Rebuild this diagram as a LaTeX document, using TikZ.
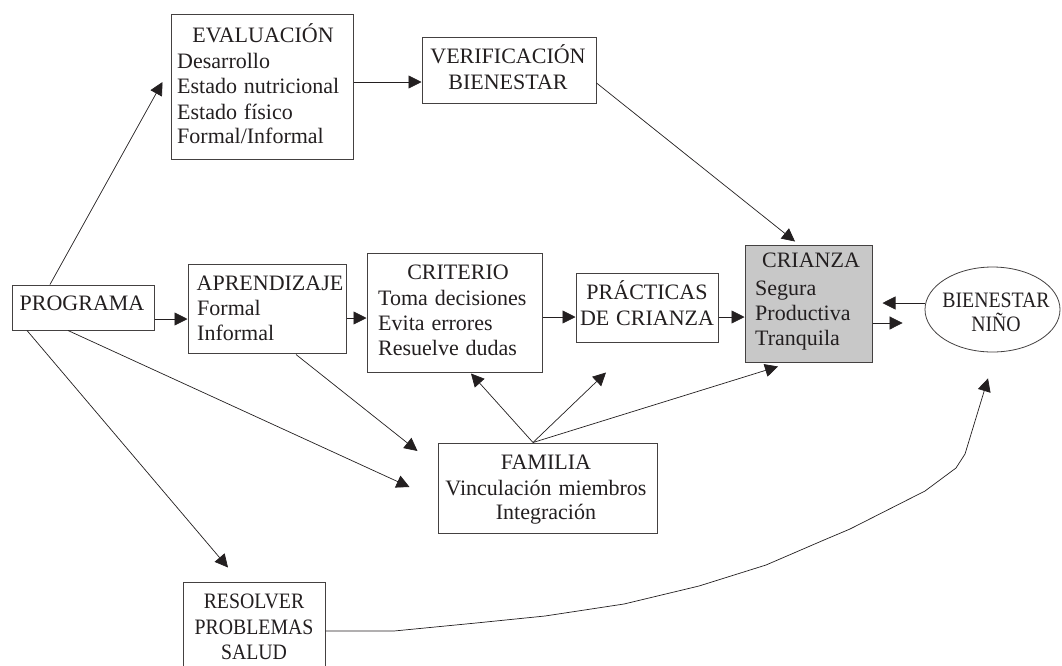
\documentclass[tikz,border=0pt]{standalone}
\usepackage{fontspec}
\setmainfont{Liberation Serif}[WordSpace=1.25]
\usetikzlibrary{arrows.meta,calc,shapes.geometric}
\newcommand\condtxt[1]{\scalebox{0.9}[1]{#1}}
\definecolor{ink}{RGB}{35,31,32}
\definecolor{crfill}{RGB}{200,200,200}
\tikzset{
  box/.style={draw=ink!85, line width=1pt, rectangle, inner sep=0pt},
  txt/.style={inner sep=0pt, text=ink, font=\fontsize{22}{25}\selectfont},
  tc/.style={txt, anchor=base},
  tl/.style={txt, anchor=base west},
  arr/.style={draw=ink, line width=0.7pt, line join=round, -{Triangle[length=13pt,width=13pt]}},
}
\begin{document}
\begin{tikzpicture}[x=1pt,y=-1pt]
\fill[white] (0,0) rectangle (1062,665);
\useasboundingbox (0,0) rectangle (1062,665);

% boxes
\node[box, minimum width=182pt, minimum height=145pt] (eval) at (262,86.5) {};
\node[box, minimum width=174pt, minimum height=66pt] (verif) at (509,70) {};
\node[box, minimum width=142pt, minimum height=45pt] (prog) at (83,307.5) {};
\node[box, minimum width=158pt, minimum height=89pt] (apr) at (267,308.5) {};
\node[box, minimum width=175pt, minimum height=119pt] (crit) at (454.5,312.5) {};
\node[box, minimum width=142pt, minimum height=69pt] (prac) at (647,307.5) {};
\node[box, fill=crfill, minimum width=127pt, minimum height=117pt] (crianza) at (808.5,303.5) {};
\node[draw=ink!85, line width=0.8pt, ellipse, inner sep=0pt, minimum width=135pt, minimum height=85pt] (bien) at (992.5,309.5) {};
\node[box, minimum width=219pt, minimum height=90pt] (fam) at (547.5,488) {};
\node[box, minimum width=142pt, minimum height=98pt] (resol) at (254,631) {};

% texts
\node[tc] (t1) at (263,42) {EVALUACIÓN};
\node[tl] (t2) at (177,68) {Desarrollo};
\node[tl] (t3) at (177,93) {Estado nutricional};
\node[tl] (t4) at (177,119) {Estado físico};
\node[tl] (t5) at (177,143) {Formal/Informal};

\node[tc] (t6) at (508,63) {VERIFICACIÓN};
\node[tc] (t7) at (508,89) {BIENESTAR};

\node[tc] (t8) at (82,310) {PROGRAMA};

\node[tc] (t9) at (270,290) {APRENDIZAJE};
\node[tl] (t10) at (197,315) {Formal};
\node[tl] (t11) at (197,340) {Informal};

\node[tc] (t12) at (458,279) {CRITERIO};
\node[tl] (t13) at (378,305) {Toma decisiones};
\node[tl] (t14) at (378,330) {Evita errores};
\node[tl] (t15) at (378,355) {Resuelve dudas};

\node[tc] (t16) at (647,299) {PRÁCTICAS};
\node[tc] (t17) at (647,325) {DE CRIANZA};

\node[tc] (t18) at (811,267) {CRIANZA};
\node[tl] (t19) at (755,295) {Segura};
\node[tl] (t20) at (755,320) {Productiva};
\node[tl] (t21) at (755,345) {Tranquila};

\node[tc] (t22) at (996,307) {\condtxt{BIENESTAR}};
\node[tc] (t23) at (996,331) {\condtxt{NIÑO}};

\node[tc] (t24) at (546,469) {FAMILIA};
\node[tc] (t25) at (546,495) {Vinculación miembros};
\node[tc] (t26) at (546,519) {Integración};

\node[tc] (t27) at (254,608) {\condtxt{RESOLVER}};
\node[tc] (t28) at (254,634) {\condtxt{PROBLEMAS}};
\node[tc] (t29) at (254,659) {\condtxt{SALUD}};

% arrow tip positions (free ends)
\coordinate (evaltip) at ($(eval.west)+(-8,-4.5)$);
\coordinate (critip) at ($(crianza.north)+(-13.5,-3)$);
\coordinate (crwest) at ($(crianza.east)+(10,-0.5)$);
\coordinate (bienwest) at ($(bien.west)+(-22,13.5)$);
\coordinate (famtipA) at ($(fam.west)+(-20,-37)$);
\coordinate (famtipB) at ($(fam.west)+(-28,-1)$);
\coordinate (resoltip) at ($(resol.north)+(-26,-14)$);
\coordinate (famtop) at ($(fam.north)+(-14.5,0)$);
\coordinate (crittip) at ($(crit.south)+(16.5,1)$);
\coordinate (practip) at ($(prac.south)+(-41,30)$);
\coordinate (criantip) at ($(crianza.south)+(-30.5,4)$);
\coordinate (bientip) at ($(bien.south)+(-4.5,26)$);

% connectors
\draw[arr] ($(prog.north)+(-33,0)$) -- (evaltip);
\draw[arr] ($(eval.east)+(0,-4.5)$) -- ($(verif.west)+(0,12)$);
\draw[arr] ($(verif.east)+(0,13)$) -- (critip);
\draw[arr] ($(prog.east)+(0,11.5)$) -- ($(apr.west)+(0,10.5)$);
\draw[arr] ($(apr.east)+(0,9.5)$) -- ($(crit.west)+(0,5.5)$);
\draw[arr] ($(crit.east)+(0,4.5)$) -- ($(prac.west)+(0,9.5)$);
\draw[arr] ($(prac.east)+(0,9.5)$) -- ($(crianza.west)+(0,13.5)$);
\draw[arr] ($(bien.west)+(0,-6.5)$) -- (crwest);
\draw[arr] ($(crianza.east)+(0,19.5)$) -- (bienwest);
\draw[arr] ($(apr.south)+(29,1)$) -- (famtipA);
\draw[arr] ($(prog.south)+(-15,0)$) -- (famtipB);
\draw[arr] ($(prog.south)+(-56,0)$) -- (resoltip);
\draw[arr] (famtop) -- (crittip);
\draw[arr] (famtop) -- (practip);
\draw[arr] (famtop) -- (criantip);
\draw[arr] (resol.east) -- (394,631) -- (476,623) -- (545,616) -- (624,604) -- (699,586)
  -- (766,565) -- (824,540) -- (850,529) -- (925,491) -- (956,468) -- (965,454) -- (bientip);
\end{tikzpicture}
\end{document}
